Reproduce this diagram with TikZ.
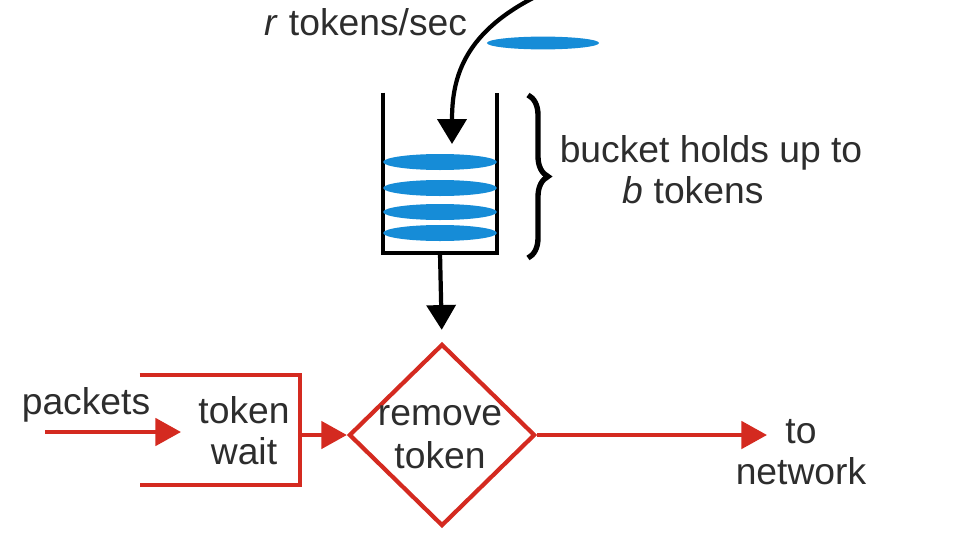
\documentclass[tikz,border=0pt]{standalone}
\usepackage{fontspec}
\setmainfont{Liberation Sans}
\usetikzlibrary{shapes.geometric,arrows.meta,decorations.pathreplacing}
\definecolor{tokred}{RGB}{212,42,32}
\definecolor{tokblue}{RGB}{22,140,215}
\definecolor{txtgray}{RGB}{45,45,45}
\begin{document}
\begin{tikzpicture}[x=0.025cm, y=-0.025cm,
  every node/.style={font=\fontsize{26.5}{29}\selectfont, text=txtgray},
  blkarrow/.style={-{Triangle[length=0.62cm,width=0.72cm]}, line width=3pt, black},
  redarrow/.style={-{Triangle[length=0.64cm,width=0.68cm]}, line width=3pt, tokred}]
  \useasboundingbox (0,0) rectangle (959,539);
  % Incoming tokens
  \node[anchor=base] (rate) at (366,35) {\textit{r} tokens/sec};
  \fill[tokblue] (543,43) ellipse [x radius=1.4cm, y radius=0.16cm];
  \coordinate (feed) at (533,-2);
  \coordinate (drip) at (452,144);
  \draw[blkarrow] (feed) .. controls (462,35) and (452,80) .. (drip);
  % Bucket
  \node[minimum width=2.85cm, minimum height=4cm, inner sep=0pt] (bucket) at (440,173) {};
  \draw[line width=3pt] (bucket.north west) -- (bucket.south west) -- (bucket.south east) -- (bucket.north east);
  \foreach \ty in {162,188,212,233} \fill[tokblue] (440,\ty) ellipse [x radius=1.42cm, y radius=0.2cm];
  \draw[line width=3.8pt, decorate, decoration={brace, amplitude=0.5cm}] (528,95) -- (528,258);
  \node[align=center] (holds) at (711,170) {bucket holds up to\\\textit{b} tokens\hspace*{0.9cm}};
  % Packets
  \node[anchor=base] (packets) at (86,414) {packets};
  \node[minimum width=4cm, minimum height=2.75cm, inner sep=0pt] (wait) at (220,430) {};
  \draw[tokred, line width=3pt] (wait.north west) -- (wait.north east) -- (wait.south east) -- (wait.south west);
  \node[align=center] (waittxt) at (244,431) {token\\wait};
  \node[draw=tokred, line width=3pt, diamond, aspect=1, minimum width=4.65cm, minimum height=4.55cm, inner sep=0pt] (remove) at (442,435) {};
  \node[align=center, font=\fontsize{26.5}{31}\selectfont] (removetxt) at (440,437) {remove\\token};
  \node[align=center] (net) at (801,452) {to\\network};
  \coordinate (pin) at (45,432);
  \coordinate (pend) at (181,432);
  \coordinate (out) at (767,435);
  % Flows
  \draw[blkarrow, shorten >=0.3cm] (bucket.south) -- (remove.north);
  \draw[redarrow] (pin) -- (pend);
  \draw[redarrow] (wait.east |- remove.west) -- (remove.west);
  \draw[redarrow] (remove.east) -- (out);
\end{tikzpicture}
\end{document}
